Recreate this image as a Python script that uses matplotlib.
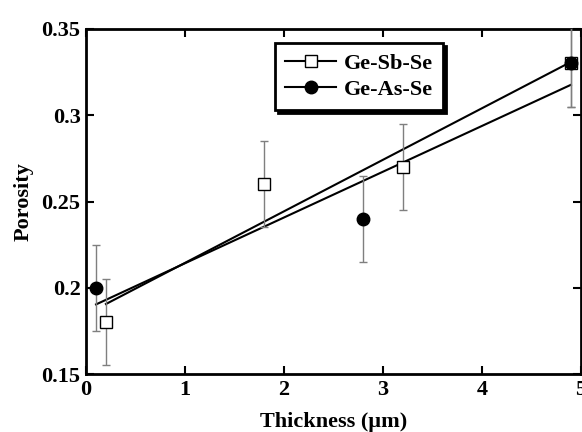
import numpy as np
import matplotlib
matplotlib.use("Agg")
import matplotlib.pyplot as plt
from matplotlib.lines import Line2D

# Ge-Sb-Se (open squares)
sb_thickness = [0.2, 1.8, 3.2, 4.9]
sb_porosity = [0.18, 0.26, 0.27, 0.33]
sb_err = [0.025, 0.025, 0.025, 0.025]

# Ge-As-Se (filled circles)
as_thickness = [0.1, 2.8, 4.9]
as_porosity = [0.20, 0.24, 0.33]
as_err = [0.025, 0.025, 0.025]

x_ticks = [0, 1, 2, 3, 4, 5]
y_ticks = [0.15, 0.2, 0.25, 0.3, 0.35]
y_ticklabels = ["0.15", "0.2", "0.25", "0.3", "0.35"]

plt.rcParams['font.family'] = ['Liberation Serif', 'DejaVu Serif']
plt.rcParams['font.weight'] = 'bold'

fig = plt.figure(figsize=(5.82, 4.32), dpi=100)
ax = fig.add_axes([0.148, 0.134, 0.850, 0.799])

# linear fits
for xs, ys in [(sb_thickness, sb_porosity), (as_thickness, as_porosity)]:
    k, b = np.polyfit(xs, ys, 1)
    xx = np.array([min(xs), max(xs)])
    ax.plot(xx, k * xx + b, color='black', lw=1.5, zorder=2)

ax.errorbar(sb_thickness, sb_porosity, yerr=sb_err, fmt='none', ecolor='#7f7f7f',
            elinewidth=1, capsize=3, capthick=1, zorder=3)
ax.errorbar(as_thickness, as_porosity, yerr=as_err, fmt='none', ecolor='#7f7f7f',
            elinewidth=1, capsize=3, capthick=1, zorder=3)
ax.plot(sb_thickness, sb_porosity, 's', ms=9, mfc='white', mec='black', mew=1, zorder=4)
ax.plot(as_thickness, as_porosity, 'o', ms=9, mfc='black', mec='black', zorder=5)

ax.set_xlim(0, 5)
ax.set_ylim(0.15, 0.35)
ax.set_xticks(x_ticks)
ax.set_yticks(y_ticks)
ax.set_yticklabels(y_ticklabels)
ax.tick_params(direction='in', length=6, width=1.5, top=True, right=True,
               labelsize=16, pad=4)
for s in ax.spines.values():
    s.set_linewidth(2)

ax.set_xlabel('Thickness (µm)', fontsize=16, fontweight='bold', labelpad=9)
ax.set_ylabel('Porosity', fontsize=16, fontweight='bold', labelpad=6)

handles = [
    Line2D([], [], color='black', lw=1.5, marker='s', ms=9, mfc='white', mec='black', mew=1),
    Line2D([], [], color='black', lw=1.5, marker='o', ms=9, mfc='black', mec='black'),
]
leg = ax.legend(handles, ['Ge-Sb-Se', 'Ge-As-Se'], loc='upper left',
                bbox_to_anchor=(0.382, 0.959), borderaxespad=0,
                prop={'weight': 'bold', 'size': 16}, frameon=True, fancybox=False,
                shadow={'color': 'black', 'alpha': 1}, handlelength=2.3,
                handletextpad=0.35, labelspacing=0.25, borderpad=0.45)
leg.get_frame().set_edgecolor('black')
leg.get_frame().set_linewidth(2)

fig.savefig('out.png', dpi=100)
